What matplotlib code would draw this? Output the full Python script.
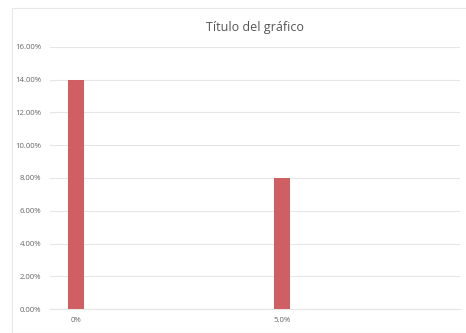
import matplotlib
matplotlib.use("Agg")
import matplotlib.pyplot as plt
from matplotlib.patches import Rectangle
from matplotlib.ticker import FuncFormatter

categories = ["0%", "5.0%"]
values = [14.0, 8.0]
yticks = [0, 2, 4, 6, 8, 10, 12, 14, 16]

fig = plt.figure(figsize=(4.66, 3.33), dpi=100)
fig.patches.append(Rectangle((0.026, 0.0), 0.98, 0.975, transform=fig.transFigure,
                             fill=False, edgecolor="#e8e8e8", linewidth=0.8))
ax = fig.add_axes([0.107, 0.072, 0.88, 0.787])

x = list(range(len(categories)))
ax.bar(x, values, width=0.078, color="#cf5f62", zorder=3)

ax.set_ylim(0, 16)
ax.set_xlim(-0.126, 1.864)
ax.set_yticks(yticks)
ax.yaxis.set_major_formatter(FuncFormatter(lambda v, p: f"{v:.2f}%"))
ax.set_xticks(x)
ax.set_xticklabels(categories)
ax.grid(axis="y", color="#e6e6e6", linewidth=0.8, zorder=0)
for s in ax.spines.values():
    s.set_visible(False)
ax.spines["bottom"].set_visible(True)
ax.spines["bottom"].set_color("#e6e6e6")
ax.tick_params(length=0, labelsize=5.6, labelcolor="#666666", pad=6)
for lab in ax.get_xticklabels() + ax.get_yticklabels():
    lab.set_family("Open Sans")

fig.text(0.547, 0.918, "Título del gráfico", ha="center", va="center",
         fontsize=9, color="#555555", family="Open Sans")

fig.savefig("out.png", dpi=100)
plt.close(fig)
